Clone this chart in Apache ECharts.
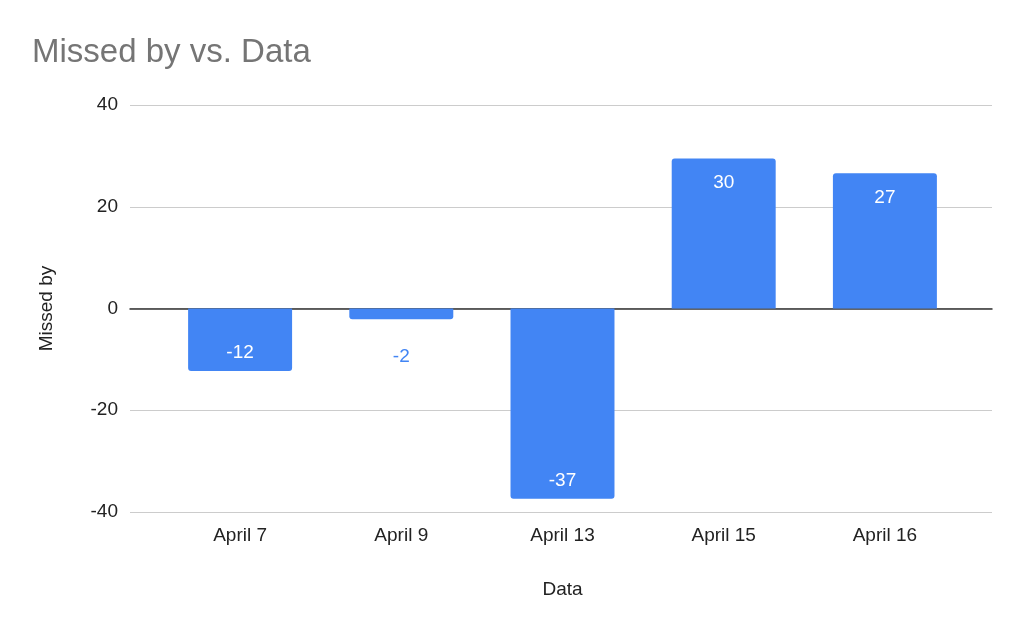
<!DOCTYPE html>
<html>
<head>
<meta charset="utf-8">
<script src="https://cdn.jsdelivr.net/npm/echarts@6/dist/echarts.min.js"></script>
<style>
  html, body { margin: 0; padding: 0; background: #fff; }
  #chart { width: 1024px; height: 633px; }
</style>
</head>
<body>
<div id="chart"></div>
<script>
const categories = ["April 7", "April 9", "April 13", "April 15", "April 16"];
const missedBy = [-12.3, -2.1, -37.4, 29.5, 26.6];
const yTicks = [-40, 40, 20];

const barColor = "#4285f4";
const textColor = "#222";

const chart = echarts.init(document.getElementById("chart"));

const data = missedBy.map((v) => {
  const small = Math.abs(v) < 5;
  return {
    value: v,
    itemStyle: { borderRadius: v < 0 ? [0, 0, 3, 3] : [3, 3, 0, 0] },
    label: {
      position: small ? (v < 0 ? "bottom" : "top") : (v < 0 ? "insideBottom" : "insideTop"),
      distance: small ? 28 : (v < 0 ? 9 : 15),
      color: small ? barColor : "#fff"
    }
  };
});

// grid 0 carries the gridlines + zero line across the full width,
// grid 1 holds the bars (google charts pads the category axis inward)
chart.setOption({
  animation: false,
  textStyle: { fontFamily: "Liberation Sans, Arial, sans-serif" },
  title: {
    text: "Missed by vs. Data",
    left: 27,
    top: 31,
    textStyle: { fontSize: 33, fontWeight: "normal", color: "#757575" }
  },
  grid: [
    { left: 130, right: 32, top: 105, bottom: 121 },
    { left: 159.5, right: 58.5, top: 105, bottom: 121 }
  ],
  xAxis: [
    {
      type: "value",
      gridIndex: 0,
      min: 0,
      max: 1,
      axisLabel: { show: false },
      axisTick: { show: false },
      splitLine: { show: false },
      axisLine: { show: true, onZero: true, lineStyle: { color: "#333", width: 1.5 } }
    },
    {
      type: "category",
      gridIndex: 1,
      data: categories,
      name: "Data",
      nameLocation: "middle",
      nameGap: 68,
      nameTextStyle: { fontSize: 19, color: textColor },
      axisLine: { show: false },
      axisTick: { show: false },
      axisLabel: { fontSize: 19, color: textColor, margin: 14 }
    }
  ],
  yAxis: [
    {
      type: "value",
      gridIndex: 0,
      min: yTicks[0],
      max: yTicks[1],
      interval: yTicks[2],
      name: "Missed by",
      nameLocation: "middle",
      nameGap: 74,
      nameTextStyle: { fontSize: 19, color: textColor },
      axisLine: { show: false },
      axisTick: { show: false },
      axisLabel: { fontSize: 19, color: textColor, margin: 12 },
      splitLine: { lineStyle: { color: "#cccccc", width: 1 } }
    },
    {
      type: "value",
      gridIndex: 1,
      min: yTicks[0],
      max: yTicks[1],
      interval: yTicks[2],
      show: false,
      splitLine: { show: false }
    }
  ],
  series: [
    {
      type: "bar",
      xAxisIndex: 1,
      yAxisIndex: 1,
      data: data,
      barWidth: "64.5%",
      itemStyle: { color: barColor },
      label: {
        show: true,
        fontSize: 19,
        formatter: (p) => Math.round(p.value)
      }
    }
  ]
});

window.addEventListener("resize", () => chart.resize());
</script>
</body>
</html>
